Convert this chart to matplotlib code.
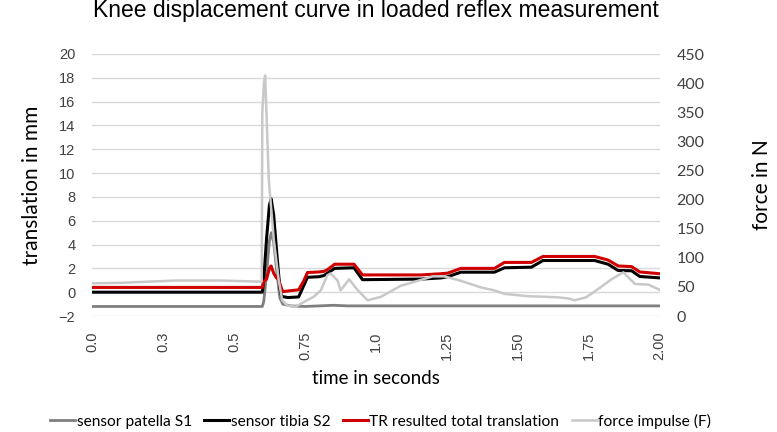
import numpy as np
import matplotlib
matplotlib.use("Agg")
import matplotlib.pyplot as plt

# time stamps (s) and values
t_s1 = [0.000, 0.600, 0.605, 0.615, 0.625, 0.632, 0.640, 0.652, 0.662, 0.672,
        0.700, 0.750, 0.850, 0.900, 2.000]
s1 = [-1.2, -1.2, -0.8, 1.5, 4.3, 5.0, 4.2, 1.5, -0.5, -1.0,
      -1.15, -1.2, -1.1, -1.15, -1.15]

t_s2 = [0.000, 0.600, 0.605, 0.615, 0.625, 0.631, 0.640, 0.652, 0.662, 0.668,
        0.690, 0.728, 0.745, 0.759, 0.800, 0.817, 0.830, 0.855, 0.923, 0.953,
        1.159, 1.230, 1.253, 1.300, 1.418, 1.453, 1.548, 1.589, 1.771, 1.818,
        1.854, 1.901, 1.930, 2.000]
s2 = [0.0, 0.0, 1.0, 4.5, 7.3, 7.85, 6.5, 3.0, 0.3, -0.35,
      -0.45, -0.4, 0.5, 1.25, 1.3, 1.4, 1.6, 2.0, 2.05, 1.05,
      1.1, 1.2, 1.3, 1.68, 1.68, 2.05, 2.1, 2.66, 2.66, 2.35,
      1.82, 1.8, 1.32, 1.2]

t_tr = [0.000, 0.600, 0.605, 0.615, 0.625, 0.631, 0.640, 0.650, 0.657, 0.665,
        0.672, 0.690, 0.728, 0.745, 0.759, 0.800, 0.817, 0.830, 0.855, 0.923,
        0.953, 1.159, 1.230, 1.253, 1.300, 1.418, 1.453, 1.548, 1.589, 1.771,
        1.818, 1.854, 1.901, 1.930, 2.000]
tr = [0.4, 0.4, 0.9, 1.1, 2.0, 2.2, 1.6, 1.2, 1.1, 0.5,
      0.05, 0.1, 0.2, 0.9, 1.65, 1.7, 1.75, 1.9, 2.35, 2.35,
      1.45, 1.45, 1.55, 1.6, 2.0, 2.0, 2.5, 2.5, 3.0, 3.0,
      2.7, 2.2, 2.15, 1.7, 1.55]

t_f = [0.000, 0.100, 0.200, 0.300, 0.450, 0.590, 0.598, 0.600, 0.606, 0.610,
       0.616, 0.623, 0.641, 0.658, 0.670, 0.688, 0.717, 0.750, 0.781, 0.806,
       0.829, 0.841, 0.865, 0.876, 0.906, 0.935, 0.971, 1.018, 1.088, 1.159,
       1.200, 1.241, 1.289, 1.371, 1.418, 1.453, 1.536, 1.600, 1.642, 1.680,
       1.700, 1.740, 1.771, 1.830, 1.872, 1.913, 1.960, 2.000]
force = [56, 57, 59, 61, 61, 59, 59, 350, 400, 413,
         330, 233, 129, 61, 27, 18, 16, 25, 33, 44,
         70, 73, 61, 44, 63, 45, 27, 33, 52, 62,
         68, 68, 62, 49, 44, 38, 34, 33, 32, 30,
         27, 32, 42, 63, 75, 55, 54, 45]

tick_pos = [0, 0.25, 0.5, 0.75, 1.0, 1.25, 1.5, 1.75, 2.0]
tick_lab = ['0.0', '0.3', '0.5', '0.75', '1.0', '1.25', '1.50', '1.75', '2.00']

arial = 'Liberation Sans'
calibri = 'Lato'

fig, ax = plt.subplots(figsize=(7.77, 4.32), dpi=100)
fig.subplots_adjust(left=0.1184, right=0.849, bottom=0.2685, top=0.875)

l1, = ax.plot(t_s1, s1, color='#7f7f7f', lw=2, label='sensor patella S1')
l2, = ax.plot(t_s2, s2, color='#000000', lw=2.2, label='sensor tibia S2')
l3, = ax.plot(t_tr, tr, color='#d00000', lw=2.2, label='TR resulted total translation')

ax2 = ax.twinx()
l4, = ax2.plot(t_f, force, color='#c8c8c8', lw=1.8, label='force impulse (F)')

ax.set_xlim(0, 2)
ax.set_ylim(-2, 20)
ax.set_yticks(np.arange(-2, 21, 2))
ax2.set_ylim(0, 450)
ax2.set_yticks(np.arange(0, 451, 50))
ax.grid(axis='y', color='#d9d9d9', lw=1)
ax.set_axisbelow(True)

for a in (ax, ax2):
    for s in a.spines.values():
        s.set_visible(False)
    a.tick_params(length=0)

ax.set_xticks(tick_pos)
ax.set_xticklabels(tick_lab, rotation=90, fontfamily=arial, fontsize=10.5, color='#404040')
for lab in ax.get_yticklabels():
    lab.set_fontfamily(arial)
    lab.set_fontsize(10.5)
    lab.set_color('#404040')
ax.tick_params(axis='y', pad=12)
ax.tick_params(axis='x', pad=11)
for lab in ax2.get_yticklabels():
    lab.set_fontfamily(calibri)
    lab.set_fontsize(11.5)
    lab.set_color('#404040')
ax2.tick_params(axis='y', pad=12)

ax.set_title('Knee displacement curve in loaded reflex measurement',
             fontfamily=arial, fontsize=16.5, pad=27)
ax.set_ylabel('translation in mm', fontfamily=calibri, fontsize=15, labelpad=12)
ax2.set_ylabel('force in N', fontfamily=calibri, fontsize=15)
ax2.yaxis.set_label_coords(1.163, 0.5)
ax.set_xlabel('time in seconds', fontfamily=calibri, fontsize=13.5, labelpad=7)

fig.legend(handles=[l1, l2, l3, l4], loc='lower center', ncol=4, frameon=False,
           bbox_to_anchor=(0.49, -0.025), handlelength=1.6, handletextpad=0.1,
           columnspacing=0.8, prop={'family': calibri, 'size': 11.2})

fig.savefig('out.png', dpi=100)
